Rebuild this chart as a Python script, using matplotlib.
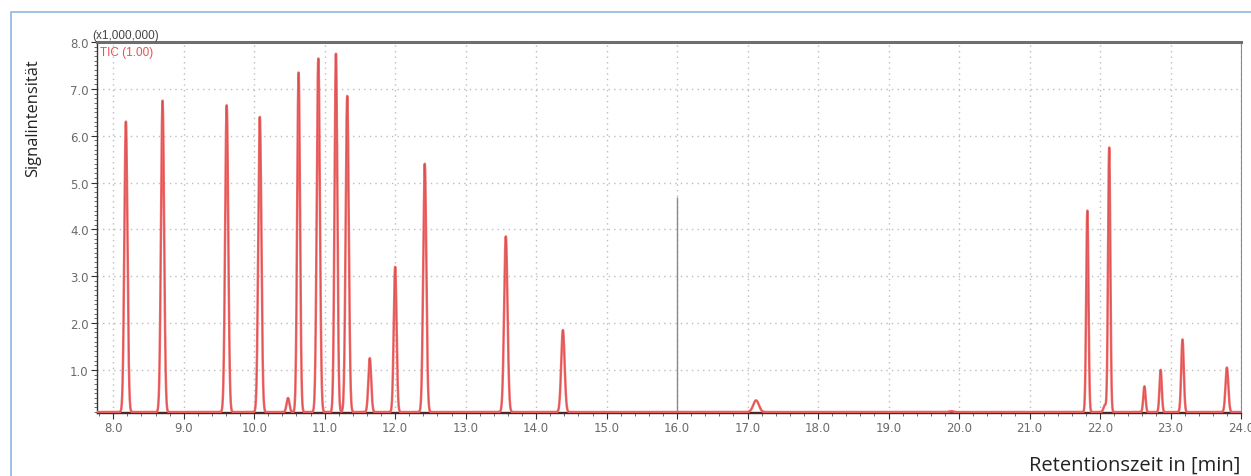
"""TIC chromatogram (GC-MS), signal intensity vs. retention time."""

import matplotlib.pyplot as plt
import numpy as np
from matplotlib.patches import Rectangle
from matplotlib.ticker import MultipleLocator

# ---------------------------------------------------------------------------
# Data (retention time in min, intensity x1,000,000)
# ---------------------------------------------------------------------------
peak_times = [8.18, 8.70, 9.61, 10.08, 10.48, 10.63, 10.91, 11.16, 11.32,
              11.64, 12.00, 12.42, 13.57, 14.38, 17.12, 19.89, 21.82, 22.07,
              22.13, 22.63, 22.86, 23.17, 23.80]
peak_heights = [6.30, 6.75, 6.65, 6.40, 0.40, 7.35, 7.65, 7.75, 6.85,
                1.25, 3.20, 5.40, 3.85, 1.85, 0.35, 0.12, 4.40, 0.25,
                5.75, 0.65, 1.00, 1.65, 1.05]
peak_sigmas = [0.022, 0.022, 0.022, 0.022, 0.020, 0.020, 0.022, 0.020, 0.022,
               0.020, 0.020, 0.022, 0.024, 0.024, 0.040, 0.030, 0.016, 0.020,
               0.016, 0.016, 0.016, 0.018, 0.020]
baseline_level = 0.10

marker_time = 16.0       # thin grey marker line
marker_height = 4.7

x_major = [8.0, 9.0, 10.0, 11.0, 12.0, 13.0, 14.0, 15.0, 16.0, 17.0,
           18.0, 19.0, 20.0, 21.0, 22.0, 23.0, 24.0]
y_major = [1.0, 2.0, 3.0, 4.0, 5.0, 6.0, 7.0, 8.0]

RED = "#f06b6b"
DARK_RED = "#b52a2a"

# ---------------------------------------------------------------------------
# Build trace
# ---------------------------------------------------------------------------
t = np.linspace(7.77, 24.0, 12000)
signal = np.full_like(t, baseline_level)
for t0, h, s in zip(peak_times, peak_heights, peak_sigmas):
    signal += (h - baseline_level) * np.exp(-0.5 * ((t - t0) / s) ** 2)

# ---------------------------------------------------------------------------
# Figure
# ---------------------------------------------------------------------------
fig = plt.figure(figsize=(12.51, 4.77), dpi=100)
ax = fig.add_axes([97 / 1251, 1 - 414 / 477, (1241 - 97) / 1251, (414 - 43) / 477])

# light blue frame around the picture
fig.patches.append(Rectangle((11 / 1251, -0.2), 1.2, 1.2 - 13 / 477,
                             transform=fig.transFigure, fill=False,
                             edgecolor="#8fb8e0", linewidth=1.2))

ax.plot(t, signal, color=RED, linewidth=1.8, zorder=3)
ax.plot(t, signal, color=DARK_RED, linewidth=0.5, alpha=0.45, zorder=4)
ax.vlines(marker_time, baseline_level, marker_height, color="#8a8a8a",
          linewidth=1.0, zorder=2)
ax.axhline(baseline_level, color="#5a2020", linewidth=1.0, zorder=2)

ax.set_xlim(7.77, 24.0)
ax.set_ylim(0.08, 8.0)
ax.set_xticks(x_major)
ax.set_xticklabels([f"{v:.1f}" for v in x_major])
ax.set_yticks(y_major)
ax.set_yticklabels([f"{v:.1f}" for v in y_major])
ax.xaxis.set_minor_locator(MultipleLocator(0.2))
ax.yaxis.set_minor_locator(MultipleLocator(0.1))

ax.tick_params(axis="both", which="major", labelsize=8.5, labelcolor="#6a6a6a",
               color="#333333", length=4, width=0.8, pad=2)
ax.tick_params(axis="both", which="minor", color="#555555", length=2, width=0.6)
ax.grid(True, which="major", linestyle=(0, (1, 3)), color="#bdbdbd",
        linewidth=1.0)

for side in ("left", "bottom"):
    ax.spines[side].set_color("#333333")
    ax.spines[side].set_linewidth(1.0)
ax.spines["top"].set_color("#6e6e6e")
ax.spines["top"].set_linewidth(2.2)
ax.spines["right"].set_color("#8a8a8a")
ax.spines["right"].set_linewidth(0.8)

# header labels inside the plot
fig.text(92 / 1251, 1 - 36 / 477, "(x1,000,000)", fontsize=8.5,
         color="#444444", va="center", ha="left", family="Liberation Sans")
fig.text(100 / 1251, 1 - 53 / 477, "TIC (1.00)", fontsize=8.5,
         color="#e85050", va="center", ha="left", family="Liberation Sans")

fig.text(33 / 1251, 1 - 118 / 477, "Signalintensität", rotation=90,
         fontsize=11.8, color="#222222", ha="center", va="center",
         family="Open Sans")
fig.text(1240 / 1251, 1 - 466 / 477, "Retentionszeit in [min]",
         fontsize=14.5, color="#222222", ha="right", va="center",
         family="Open Sans")

fig.savefig("out.png", dpi=100)
